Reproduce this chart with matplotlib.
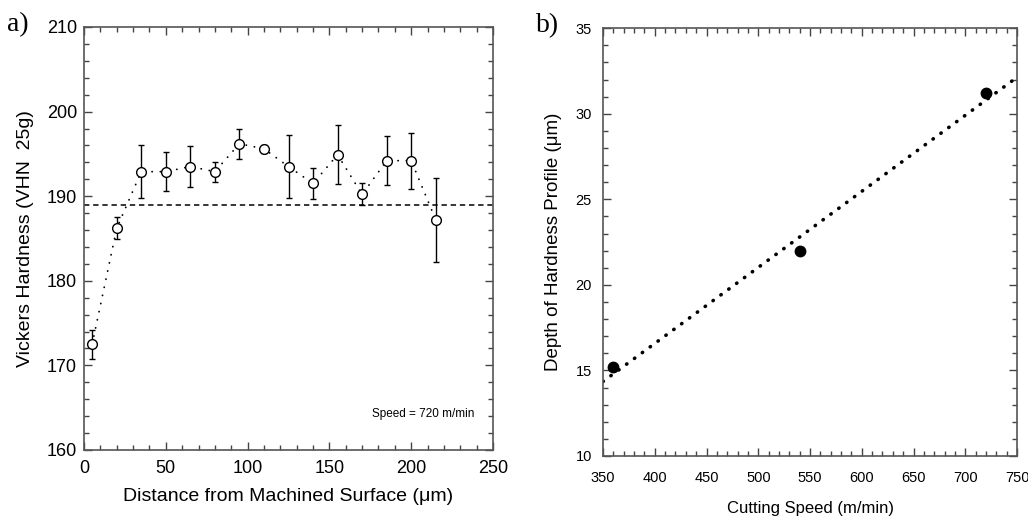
import numpy as np
import matplotlib
matplotlib.use("Agg")
import matplotlib.pyplot as plt
from matplotlib.ticker import MultipleLocator

plt.rcParams['font.family'] = ['Liberation Sans', 'DejaVu Sans']

# Daten Teil a): Haerteprofil
distance = [5, 20, 35, 50, 65, 80, 95, 110, 125, 140, 155, 170, 185, 200, 215]
hardness = [172.5, 186.2, 192.9, 192.9, 193.5, 192.9, 196.2, 195.6, 193.5, 191.5, 194.9, 190.2, 194.2, 194.2, 187.2]
hardness_err = [1.7, 1.3, 3.1, 2.3, 2.4, 1.2, 1.8, 0.5, 3.7, 1.8, 3.5, 1.3, 2.9, 3.3, 5.0]
bulk_hardness = 189

# Daten Teil b): Tiefe des Haerteprofils
speed = [360, 540, 720]
depth = [15.2, 22.0, 31.2]
fit_range = [350, 750]

fig = plt.figure(figsize=(10.28, 5.18), dpi=100)

ax1 = fig.add_axes([0.0817, 0.1313, 0.3979, 0.8166])
ax2 = fig.add_axes([0.5866, 0.1197, 0.4027, 0.8257])

# a)
ax1.axhline(bulk_hardness, color='black', lw=1.1, linestyle=(0, (3.5, 2.5)))
ax1.plot(distance, hardness, color='black', lw=1.3, linestyle=(0, (0.1, 4.5)),
         dash_capstyle='round')
ax1.errorbar(distance, hardness, yerr=hardness_err, fmt='o', mfc='white', mec='black',
             ms=7, mew=1.0, ecolor='black', elinewidth=1.0, capsize=2.5, capthick=1.0)
ax1.set_xlim(0, 250)
ax1.set_ylim(160, 210)
ax1.xaxis.set_major_locator(MultipleLocator(50))
ax1.xaxis.set_minor_locator(MultipleLocator(10))
ax1.yaxis.set_major_locator(MultipleLocator(10))
ax1.yaxis.set_minor_locator(MultipleLocator(2))
ax1.set_xlabel('Distance from Machined Surface (\u03bcm)', fontsize=14, labelpad=8)
ax1.set_ylabel('Vickers Hardness (VHN  25g)', fontsize=14, labelpad=9)
ax1.text(0.955, 0.085, 'Speed = 720 m/min', transform=ax1.transAxes, fontsize=8.5,
         ha='right', va='center')

# b)
coef = np.polyfit(speed, depth, 1)
ax2.plot(fit_range, np.polyval(coef, fit_range), color='black', lw=2.6,
         linestyle=(0, (0.1, 2.6)), dash_capstyle='round')
ax2.plot(speed, depth, 'o', color='black', ms=7.5)
ax2.set_xlim(350, 750)
ax2.set_ylim(10, 35)
ax2.xaxis.set_major_locator(MultipleLocator(50))
ax2.xaxis.set_minor_locator(MultipleLocator(10))
ax2.yaxis.set_major_locator(MultipleLocator(5))
ax2.yaxis.set_minor_locator(MultipleLocator(1))
ax2.set_xlabel('Cutting Speed (m/min)', fontsize=12, labelpad=11)
ax2.set_ylabel('Depth of Hardness Profile (\u03bcm)', fontsize=13.5, labelpad=10)

for ax, fs in [(ax1, 13), (ax2, 10.5)]:
    ax.tick_params(which='both', direction='in', top=True, right=True,
                   color='#444444', width=1.0)
    ax.tick_params(which='major', length=6, labelsize=fs)
    ax.tick_params(which='minor', length=3.5)
    for sp in ax.spines.values():
        sp.set_color('#555555')
        sp.set_linewidth(1.2)
ax1.tick_params(axis='x', which='major', pad=7)
ax1.tick_params(axis='y', which='major', pad=5)
ax2.tick_params(axis='x', which='major', pad=11)
ax2.tick_params(axis='y', which='major', pad=8)

fig.text(0.007, 0.953, 'a)', fontsize=20, family=['Liberation Serif', 'DejaVu Serif'],
         va='center')
fig.text(0.521, 0.951, 'b)', fontsize=20, family=['Liberation Serif', 'DejaVu Serif'],
         va='center')

fig.savefig('out.png', dpi=100)
